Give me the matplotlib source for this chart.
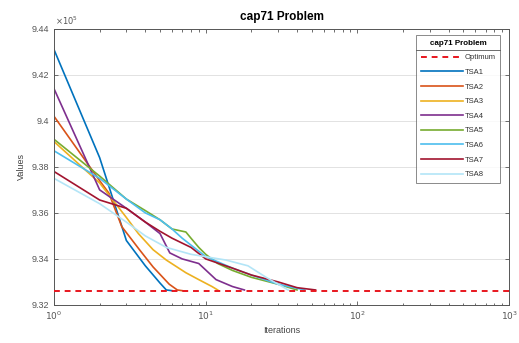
import math
import matplotlib
matplotlib.use("Agg")
import matplotlib.pyplot as plt
from matplotlib.lines import Line2D
from matplotlib.ticker import FixedLocator, LogLocator, NullFormatter, FuncFormatter

plt.rcParams['font.family'] = ['Liberation Sans', 'DejaVu Sans']

optimum = 9.32616  # x 10^5

tsa1_x = [1, 2, 3, 4, 5, 5.5, 6, 1000]
tsa1_y = [9.431, 9.384, 9.348, 9.337, 9.3295, 9.3265, 9.3262, 9.3262]

tsa2_x = [1, 2, 2.3, 2.8, 3.66, 4.5, 5.75, 6.5, 7, 1000]
tsa2_y = [9.402, 9.374, 9.3686, 9.354, 9.344, 9.3365, 9.329, 9.3265, 9.3262, 9.3262]

tsa3_x = [1, 2, 3, 3.6, 4.5, 5.5, 7.4, 9, 11, 12, 1000]
tsa3_y = [9.391, 9.373, 9.358, 9.351, 9.344, 9.3395, 9.334, 9.331, 9.328, 9.3265, 9.3262]

tsa4_x = [1, 2, 3, 4, 5, 5.8, 7, 9, 11.7, 15, 18, 1000]
tsa4_y = [9.414, 9.370, 9.362, 9.356, 9.351, 9.3426, 9.340, 9.338, 9.331, 9.328, 9.3265, 9.3262]

tsa5_x = [1, 2, 3, 4, 5, 6, 7.4, 8, 9, 10, 12, 15, 20, 30, 40, 1000]
tsa5_y = [9.392, 9.376, 9.366, 9.361, 9.357, 9.353, 9.3517, 9.349, 9.345, 9.342, 9.338, 9.335, 9.332, 9.329, 9.3265, 9.3262]

tsa6_x = [1, 2, 3, 4, 5, 6, 7, 8, 10, 15, 20, 30, 45, 1000]
tsa6_y = [9.387, 9.375, 9.366, 9.360, 9.357, 9.353, 9.349, 9.346, 9.341, 9.336, 9.333, 9.329, 9.3265, 9.3262]

tsa7_x = [1, 2, 3, 4, 5, 6, 8, 10, 15, 20, 30, 40, 53, 1000]
tsa7_y = [9.378, 9.3656, 9.362, 9.356, 9.352, 9.349, 9.345, 9.340, 9.336, 9.333, 9.330, 9.3275, 9.3265, 9.3262]

tsa8_x = [1, 2, 3, 4, 5.5, 8, 13.6, 19, 25, 35, 1000]
tsa8_y = [9.375, 9.364, 9.356, 9.350, 9.345, 9.342, 9.3395, 9.337, 9.332, 9.3265, 9.3262]

series = [
    ("TSA1", tsa1_x, tsa1_y, "#0072BD"),
    ("TSA2", tsa2_x, tsa2_y, "#D95319"),
    ("TSA3", tsa3_x, tsa3_y, "#EDB120"),
    ("TSA4", tsa4_x, tsa4_y, "#7E2F8E"),
    ("TSA5", tsa5_x, tsa5_y, "#77AC30"),
    ("TSA6", tsa6_x, tsa6_y, "#4DBEEE"),
    ("TSA7", tsa7_x, tsa7_y, "#A2142F"),
    ("TSA8", tsa8_x, tsa8_y, "#B3E5F7"),
]

y_ticks = [9.32, 9.34, 9.36, 9.38, 9.40, 9.42, 9.44]
x_ticks = [1, 10, 100, 1000]

fig = plt.figure(figsize=(5.19, 3.43), dpi=100)
ax = fig.add_axes([0.104, 0.111, 0.877, 0.805])

ax.plot([1, 1000], [optimum, optimum], linestyle=(0, (3, 2.5)), color="#E8161E",
        linewidth=1.4, label="Optimum", zorder=3)
for name, xs, ys, c in series:
    ax.plot(xs[:-1], ys[:-1], color=c, linewidth=1.2, label=name)

ax.set_xscale('log')
ax.set_xlim(1, 1000)
ax.set_ylim(9.32, 9.44)
ax.xaxis.set_major_locator(FixedLocator(x_ticks))
ax.xaxis.set_minor_locator(LogLocator(base=10, subs=range(2, 10), numticks=20))
ax.xaxis.set_minor_formatter(NullFormatter())
ax.xaxis.set_major_formatter(FuncFormatter(lambda v, p: "$10^{%d}$" % round(math.log10(v))))
ax.yaxis.set_major_locator(FixedLocator(y_ticks))
ax.yaxis.set_major_formatter(FuncFormatter(lambda v, p: ("%.2f" % v).rstrip('0')))

ax.tick_params(which='both', direction='in', top=True, right=True, labelsize=6.5,
               colors='#555555', labelcolor='#555555', width=0.6)
ax.tick_params(which='major', length=3)
ax.tick_params(which='minor', length=1.8)
for s in ax.spines.values():
    s.set_color('#555555')
    s.set_linewidth(0.7)
ax.grid(axis='y', color='#dddddd', linewidth=0.6)
ax.set_axisbelow(True)

ax.set_title("cap71 Problem", fontsize=8.5, fontweight='bold', pad=6)
ax.set_xlabel("Iterations", fontsize=6.5, color='#444444', labelpad=3)
ax.set_ylabel("Values", fontsize=6.5, color='#444444', labelpad=4)
ax.text(0.003, 1.005, r"$\times10^5$", transform=ax.transAxes, fontsize=6,
        color='#555555', va='bottom', ha='left')

leg = ax.legend(loc='upper right', bbox_to_anchor=(0.985, 0.985), fontsize=5.5,
                title="cap71 Problem", title_fontproperties={'weight': 'bold', 'size': 5.8},
                frameon=True, fancybox=False, edgecolor='#555555', handlelength=5.5,
                handletextpad=0.2, labelspacing=0.95, borderpad=0.6, borderaxespad=0.3)
leg.get_frame().set_linewidth(0.6)
for t in leg.get_texts():
    t.set_color('#333333')

fig.canvas.draw()
r = fig.canvas.get_renderer()
fb = leg.get_frame().get_window_extent(r)
tb = leg.get_title().get_window_extent(r)
ysep = tb.y0 - 3
inv = fig.transFigure.inverted()
(x0, y0) = inv.transform((fb.x0, ysep))
(x1, _) = inv.transform((fb.x1, ysep))
fig.add_artist(Line2D([x0, x1], [y0, y0], transform=fig.transFigure,
                      color='#555555', linewidth=0.6, zorder=10))

fig.savefig("out.png", dpi=100)
